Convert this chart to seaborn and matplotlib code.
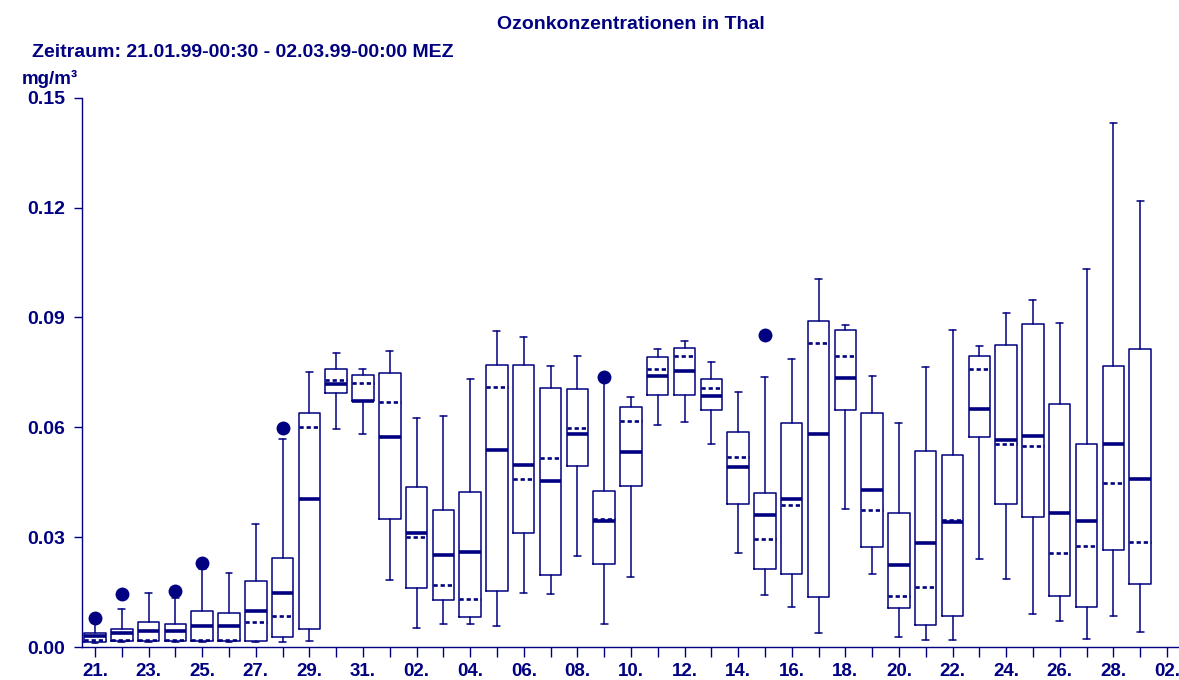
import matplotlib
matplotlib.use("Agg")
import matplotlib.pyplot as plt
import seaborn as sns
import pandas as pd

# Daily ozone statistics (mg/m³), one entry per day from 21.01.99 to 01.03.99
days = pd.date_range("1999-01-21", periods=40, freq="D").strftime("%d.%m.")

whisker_low = [0.0011, 0.0014, 0.0014, 0.0014, 0.0013, 0.0013, 0.0014, 0.0015, 0.0017, 0.0595,
               0.0583, 0.0182, 0.0052, 0.0062, 0.0063, 0.0058, 0.0147, 0.0145, 0.0248, 0.0064,
               0.0192, 0.0605, 0.0614, 0.0554, 0.0257, 0.0142, 0.0110, 0.0038, 0.0378, 0.0198,
               0.0026, 0.0018, 0.0018, 0.0241, 0.0185, 0.0091, 0.0070, 0.0021, 0.0085, 0.0040]
quartile_1 = [0.0015, 0.0016, 0.0016, 0.0016, 0.0016, 0.0016, 0.0017, 0.0027, 0.0048, 0.0694,
              0.0672, 0.0350, 0.0161, 0.0127, 0.0081, 0.0154, 0.0311, 0.0196, 0.0493, 0.0226,
              0.0439, 0.0687, 0.0687, 0.0648, 0.0391, 0.0212, 0.0200, 0.0136, 0.0646, 0.0274,
              0.0106, 0.0059, 0.0084, 0.0574, 0.0391, 0.0356, 0.0140, 0.0108, 0.0265, 0.0171]
median = [0.0029, 0.0037, 0.0045, 0.0045, 0.0058, 0.0058, 0.0099, 0.0147, 0.0403, 0.0717,
          0.0673, 0.0573, 0.0311, 0.0252, 0.0259, 0.0537, 0.0497, 0.0454, 0.0581, 0.0343,
          0.0532, 0.0741, 0.0753, 0.0685, 0.0492, 0.0360, 0.0404, 0.0583, 0.0735, 0.0428,
          0.0225, 0.0285, 0.0342, 0.0651, 0.0564, 0.0577, 0.0366, 0.0345, 0.0554, 0.0459]
mean = [0.0018, 0.0020, 0.0019, 0.0018, 0.0020, 0.0020, 0.0068, 0.0085, 0.0600, 0.0730,
        0.0721, 0.0668, 0.0300, 0.0168, 0.0130, 0.0711, 0.0459, 0.0515, 0.0598, 0.0349,
        0.0616, 0.0760, 0.0794, 0.0707, 0.0518, 0.0295, 0.0387, 0.0830, 0.0795, 0.0373,
        0.0140, 0.0163, 0.0347, 0.0759, 0.0555, 0.0549, 0.0257, 0.0275, 0.0447, 0.0288]
quartile_3 = [0.0037, 0.0050, 0.0068, 0.0064, 0.0097, 0.0094, 0.0180, 0.0243, 0.0640, 0.0759,
              0.0744, 0.0749, 0.0438, 0.0375, 0.0422, 0.0771, 0.0771, 0.0706, 0.0704, 0.0427,
              0.0655, 0.0793, 0.0817, 0.0732, 0.0587, 0.0421, 0.0613, 0.0891, 0.0866, 0.0640,
              0.0367, 0.0535, 0.0523, 0.0794, 0.0826, 0.0883, 0.0663, 0.0555, 0.0766, 0.0815]
whisker_high = [0.0066, 0.0103, 0.0147, 0.0135, 0.0213, 0.0201, 0.0335, 0.0569, 0.0750, 0.0802,
                0.0760, 0.0809, 0.0625, 0.0631, 0.0733, 0.0863, 0.0847, 0.0767, 0.0795, 0.0725,
                0.0682, 0.0814, 0.0835, 0.0778, 0.0695, 0.0737, 0.0786, 0.1006, 0.0878, 0.0740,
                0.0613, 0.0764, 0.0865, 0.0822, 0.0911, 0.0948, 0.0885, 0.1031, 0.1430, 0.1218]

# Extreme values shown as filled dots
outlier_day = [0, 1, 3, 4, 7, 19, 25]
outlier_value = [0.0080, 0.0144, 0.0152, 0.0230, 0.0598, 0.0737, 0.0851]

# Axis labelling
y_ticks = [0.00, 0.03, 0.06, 0.09, 0.12, 0.15]
x_tick_labels = ["21.", "23.", "25.", "27.", "29.", "31.", "02.", "04.", "06.", "08.", "10.",
                 "12.", "14.", "16.", "18.", "20.", "22.", "24.", "26.", "28.", "02."]

NAVY = "#000080"

sns.set_style("white")
plt.rcParams["font.family"] = ["Liberation Sans", "DejaVu Sans"]
plt.rcParams["font.weight"] = "bold"

fig = plt.figure(figsize=(11.79, 6.8), dpi=100)
ax = fig.add_axes([82 / 1179, 1 - 647 / 680, 1 - 82 / 1179, (647 - 97.7) / 680])

stats = [
    dict(label=d, whislo=wl, q1=a, med=m, mean=mu, q3=b, whishi=wh, fliers=[])
    for d, wl, a, m, mu, b, wh in zip(days, whisker_low, quartile_1, median, mean,
                                        quartile_3, whisker_high)
]
ax.bxp(
    stats,
    positions=range(len(stats)),
    widths=0.8,
    capwidths=0.26,
    showmeans=True,
    meanline=True,
    showfliers=False,
    manage_ticks=False,
    boxprops=dict(color=NAVY, linewidth=1.1),
    whiskerprops=dict(color=NAVY, linewidth=1.1),
    capprops=dict(color=NAVY, linewidth=1.1),
    medianprops=dict(color=NAVY, linewidth=2.6, solid_capstyle="butt"),
    meanprops=dict(color=NAVY, linewidth=1.9, linestyle=(0, (1.6, 1.1))),
)

sns.scatterplot(x=outlier_day, y=outlier_value, ax=ax, color=NAVY, edgecolor=NAVY,
                s=100, linewidth=0, zorder=5, legend=False)

ax.set_xlim(-0.485, 40.45)
ax.set_ylim(0, 0.15)
ax.set_xticks(range(41))
ax.set_xticklabels([x_tick_labels[i // 2] if i % 2 == 0 else "" for i in range(41)])
ax.set_yticks(y_ticks)
ax.set_yticklabels([f"{v:.2f}" for v in y_ticks])
ax.tick_params(axis="x", bottom=True, direction="out", length=7.5, width=1, color=NAVY,
               labelcolor=NAVY, labelsize=13.5, pad=4)
ax.tick_params(axis="y", left=True, direction="out", length=6, width=1, color=NAVY,
               labelcolor=NAVY, labelsize=14, pad=6)
for lbl in ax.get_xticklabels() + ax.get_yticklabels():
    lbl.set_fontweight("bold")

for side in ("top", "right"):
    ax.spines[side].set_visible(False)
for side in ("left", "bottom"):
    ax.spines[side].set_color(NAVY)
    ax.spines[side].set_linewidth(1.0)
ax.set_xlabel("")
ax.set_ylabel("")
ax.grid(False)

fig.text(631 / 1179, 1 - 29 / 680, "Ozonkonzentrationen in Thal", ha="center",
         va="baseline", color=NAVY, fontsize=14, fontweight="bold")
fig.text(32 / 1179, 1 - 57 / 680, "Zeitraum: 21.01.99-00:30 - 02.03.99-00:00 MEZ",
         ha="left", va="baseline", color=NAVY, fontsize=14, fontweight="bold")
fig.text(22 / 1179, 1 - 83.5 / 680, "mg/m³", ha="left", va="baseline", color=NAVY,
         fontsize=13.5, fontweight="bold")

fig.savefig("out.png", dpi=100)
